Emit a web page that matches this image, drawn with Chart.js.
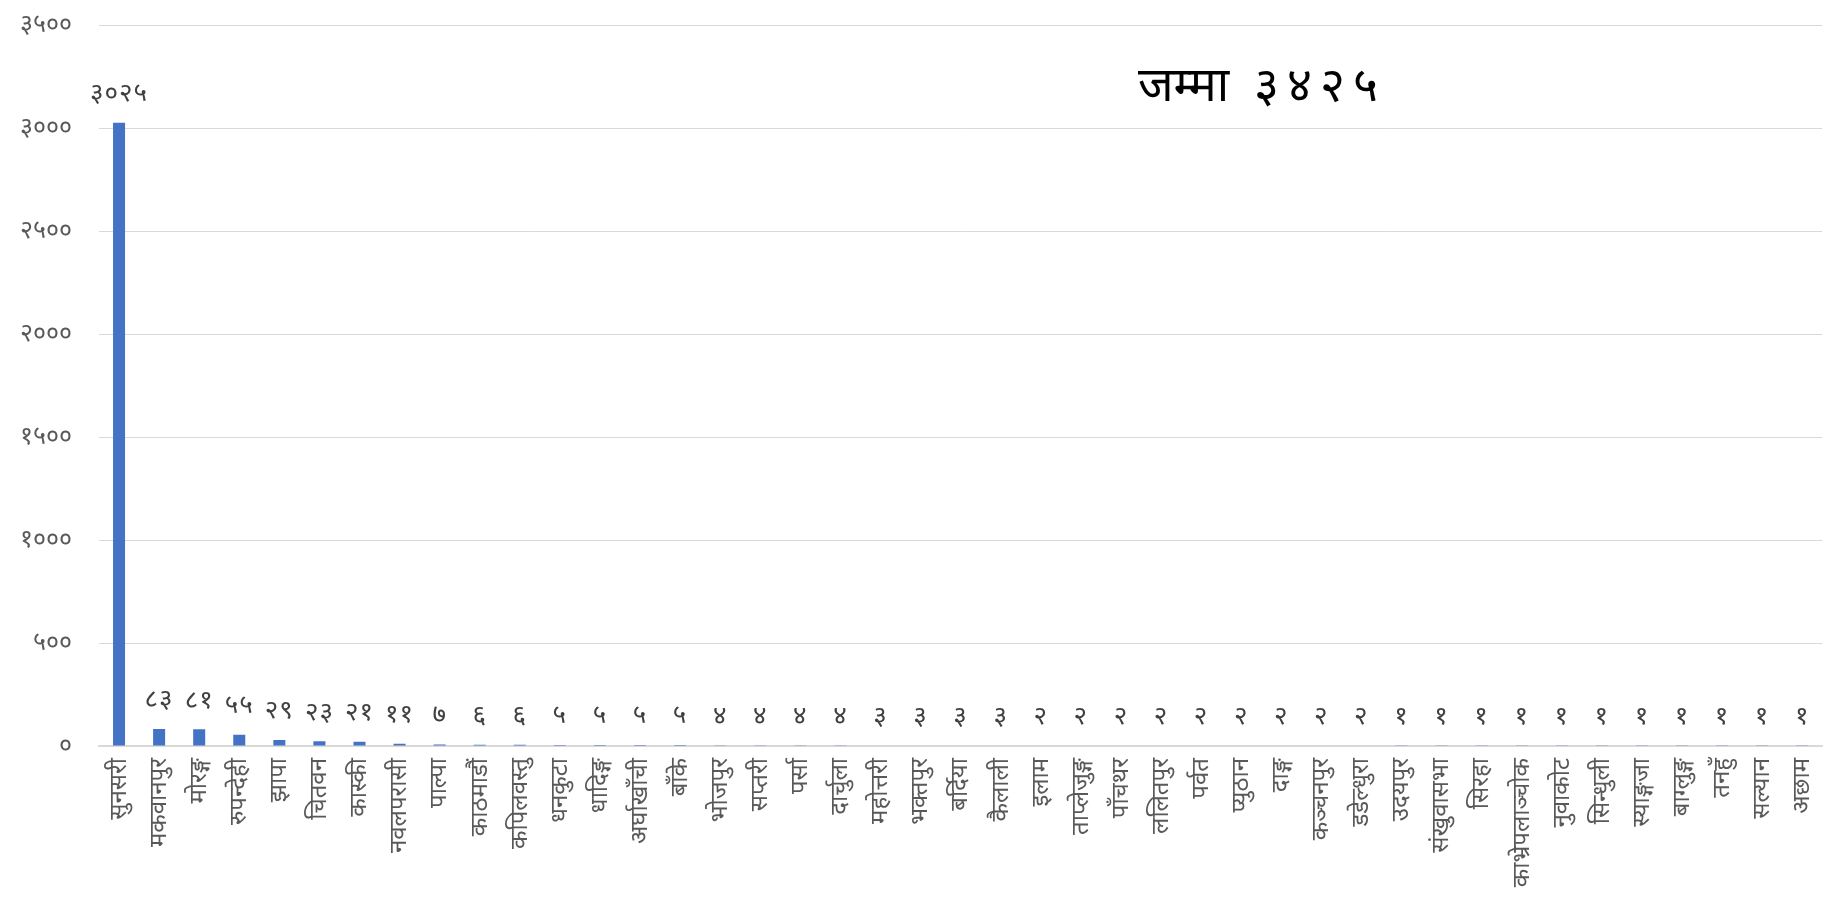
<!DOCTYPE html>
<html>
<head>
<meta charset="utf-8">
<script src="https://cdn.jsdelivr.net/npm/chart.js@4.4.0/dist/chart.umd.min.js"></script>
<style>
  body { margin: 0; background: #fff; }
  #wrap { position: relative; width: 1835px; height: 898px; }
  #jamma { position: absolute; left: 1138px; top: 50px; font: 48px "Noto Sans", sans-serif; color: #000; white-space: pre; }
  #jamma span { letter-spacing: 8px; }
</style>
</head>
<body>
<div id="wrap">
  <canvas id="grafico"></canvas>
  <div id="jamma">जम्मा  <span>३४२५</span></div>
</div>
<script>
const jillaharu = ['सुनसरी', 'मकवानपुर', 'मोरङ्ग', 'रुपन्देही', 'झापा', 'चितवन', 'कास्की', 'नवलपरासी',
  'पाल्पा', 'काठमाडौं', 'कपिलवस्तु', 'धनकुटा', 'धादिङ्ग', 'अर्घाखाँची', 'बाँके', 'भोजपुर', 'सप्तरी',
  'पर्सा', 'दार्चुला', 'महोत्तरी', 'भक्तपुर', 'बर्दिया', 'कैलाली', 'इलाम', 'ताप्लेजुङ्ग', 'पाँचथर',
  'ललितपुर', 'पर्वत', 'प्युठान', 'दाङ्ग', 'कञ्चनपुर', 'डडेल्धुरा', 'उदयपुर', 'संखुवासभा', 'सिरहा',
  'काभ्रेपलाञ्चोक', 'नुवाकोट', 'सिन्धुली', 'स्याङ्गजा', 'बाग्लुङ्ग', 'तनहुँ', 'सल्यान', 'अछाम'];
const sankhya = [3025, 83, 81, 55, 29, 23, 21, 11, 7, 6, 6, 5, 5, 5, 5, 4, 4, 4, 4, 3, 3, 3, 3,
  2, 2, 2, 2, 2, 2, 2, 2, 2, 1, 1, 1, 1, 1, 1, 1, 1, 1, 1, 1];
const yMax = 3500;
const yStep = 500;

const ankaharu = ['०', '१', '२', '३', '४', '५', '६', '७', '८', '९'];
function nepaliAnka(n) {
    return String(n).replace(/[0-9]/g, d => ankaharu[d]);
}

const fontFam = '"Noto Sans", sans-serif';

// बारमाथि संख्या लेख्ने
const mulyaPlugin = {
    id: 'mulya',
    afterDatasetsDraw(chart) {
        const ctx = chart.ctx;
        const meta = chart.getDatasetMeta(0);
        ctx.save();
        ctx.fillStyle = '#404040';
        ctx.font = '26px ' + fontFam;
        ctx.letterSpacing = '1px';
        ctx.textAlign = 'center';
        ctx.textBaseline = 'bottom';
        meta.data.forEach((bar, i) => {
            ctx.fillText(nepaliAnka(sankhya[i]), bar.x, bar.y - 16);
        });
        ctx.restore();
    }
};

const ctx = document.getElementById("grafico").getContext("2d");

const chart = new Chart(ctx, {
    type: 'bar',
    data: {
        labels: jillaharu,
        datasets: [{
            data: sankhya,
            backgroundColor: '#4472C4',
            barPercentage: 0.6,
            categoryPercentage: 0.5
        }]
    },
    options: {
        responsive: true,
        maintainAspectRatio: false,
        animation: false,
        layout: { padding: { top: 25, right: 0, left: 0, bottom: 0 } },
        plugins: {
            legend: { display: false },
            tooltip: { enabled: false }
        },
        scales: {
            x: {
                grid: { display: false },
                border: { color: '#d9d9d9', width: 2 },
                ticks: {
                    color: '#595959',
                    font: { size: 24, family: fontFam },
                    maxRotation: 90,
                    minRotation: 90,
                    autoSkip: false,
                    padding: 4
                },
                afterFit(scale) { scale.height = 152; }
            },
            y: {
                min: 0,
                max: yMax,
                grid: { color: '#d9d9d9', drawTicks: false },
                border: { display: false },
                ticks: {
                    stepSize: yStep,
                    color: '#595959',
                    font: { size: 25, family: fontFam },
                    padding: 27,
                    callback: v => nepaliAnka(v)
                },
                afterFit(scale) {
                    scale.width = 99;
                    scale.paddingTop = 0;
                    scale.paddingBottom = 0;
                }
            }
        }
    },
    plugins: [mulyaPlugin]
});
</script>
</body>
</html>
